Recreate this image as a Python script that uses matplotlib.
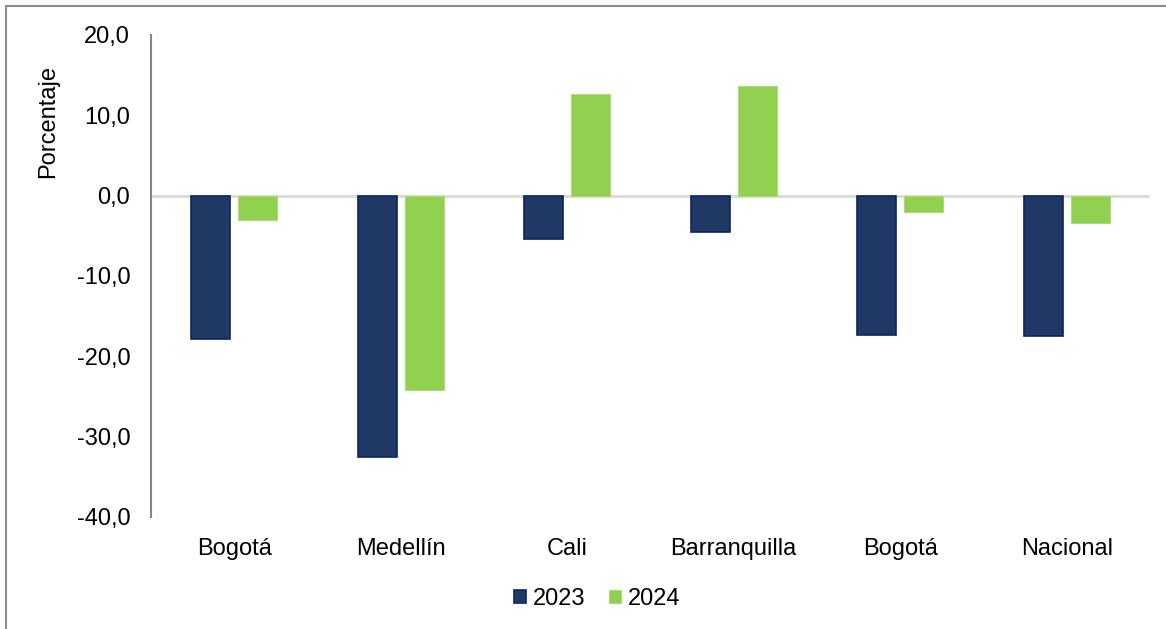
import numpy as np
import matplotlib.pyplot as plt
from matplotlib.patches import Rectangle
from matplotlib.ticker import FuncFormatter

plt.rc('font', family='Liberation Sans')

ciudades = ['Bogotá', 'Medellín', 'Cali', 'Barranquilla', 'Bogotá', 'Nacional']
v2023 = [-17.9, -32.5, -5.4, -4.5, -17.3, -17.5]
v2024 = [-3.0, -24.2, 12.6, 13.6, -2.0, -3.4]
series = ['2023', '2024']

W, H = 1166, 629
fig = plt.figure(figsize=(W / 100, H / 100), dpi=100)
ax = fig.add_axes([151 / W, 1 - 517 / H, 999 / W, 482 / H])

x = np.arange(len(ciudades))
bw = 0.235
ax.bar(x - 0.141, v2023, bw, color='#203864', edgecolor='#0a2566', linewidth=1.2, label=series[0], zorder=3)
ax.bar(x + 0.141, v2024, bw, color='#92D050', edgecolor='#a9dc7a', linewidth=0.8, label=series[1], zorder=3)

ax.axhline(0, color='#d9d9d9', linewidth=2, zorder=2)
ax.set_xlim(-0.5, len(ciudades) - 0.5)
ax.set_ylim(-40, 20)
ax.set_yticks(np.arange(-40, 21, 10))
ax.yaxis.set_major_formatter(FuncFormatter(lambda v, p: f'{v:.1f}'.replace('.', ',')))
ax.set_xticks(x)
ax.set_xticklabels(ciudades)
ax.tick_params(axis='both', length=0, labelsize=17, colors='black')
ax.tick_params(axis='x', pad=15)
ax.tick_params(axis='y', pad=15)
for s in ['top', 'right', 'bottom']:
    ax.spines[s].set_visible(False)
ax.spines['left'].set_color('#868686')
ax.spines['left'].set_linewidth(1.5)
ax.set_ylabel('Porcentaje', fontsize=17)
ax.yaxis.set_label_coords((59 - 151) / 999, (517 - 122) / 482)

ax.legend(loc='center', bbox_to_anchor=(597 / W, 1 - 599 / H), bbox_transform=fig.transFigure,
          ncol=2, frameon=False, fontsize=17, handlelength=0.5, handleheight=0.5,
          handletextpad=0.3, columnspacing=1.0)

fig.patches.append(Rectangle((6 / W, -0.1), 1.2, 1 - 6 / H + 0.1, transform=fig.transFigure,
                             fill=False, edgecolor='#8c8c8c', linewidth=1.5))

fig.savefig('out.png', dpi=100)
